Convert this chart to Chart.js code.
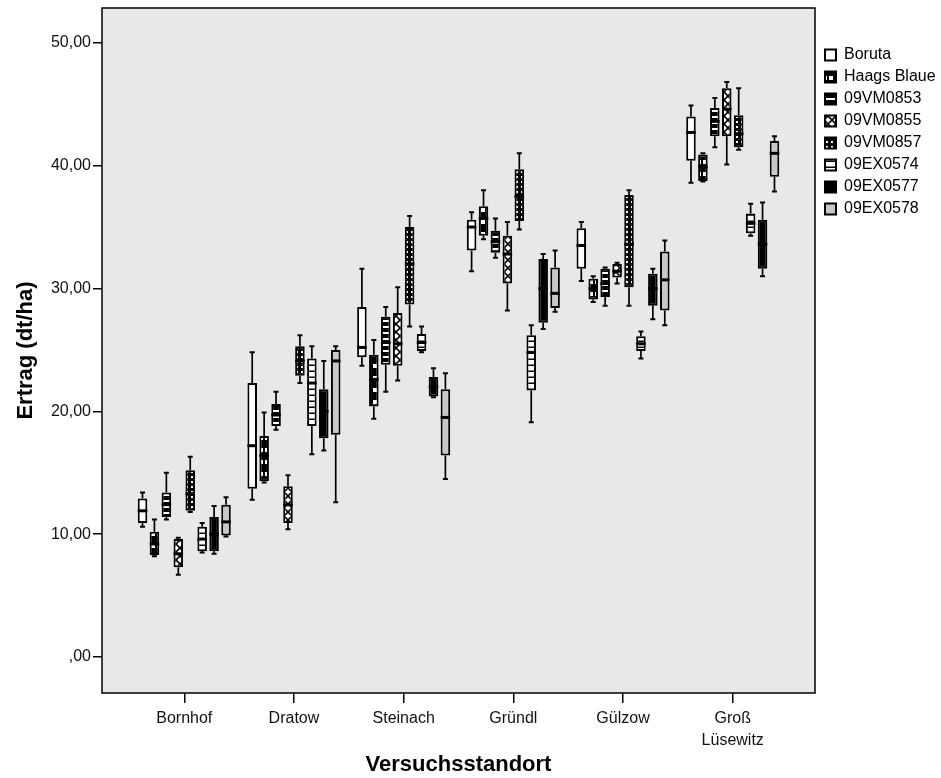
<!DOCTYPE html>
<html>
<head>
<meta charset="utf-8">
<script src="https://cdn.jsdelivr.net/npm/chart.js@4.4.1/dist/chart.umd.min.js"></script>
<style>
  html, body { margin: 0; padding: 0; background: #fff; }
</style>
</head>
<body>
<canvas id="chart" width="941" height="778"></canvas>
<script>
// categories on the x axis
const categories = ['Bornhof', 'Dratow', 'Steinach', 'Gründl', 'Gülzow', ['Groß', 'Lüsewitz']];
const seriesNames = ['Boruta', 'Haags Blaue', '09VM0853', '09VM0855', '09VM0857', '09EX0574', '09EX0577', '09EX0578'];
const yTicks = [0, 10, 20, 30, 40, 50];
const yTickLabels = [',00', '10,00', '20,00', '30,00', '40,00', '50,00'];

// each row: [min, q1, median, q3, max] per location
const boruta = [
  [10.6, 10.9, 11.9, 12.9, 13.4],
  [12.8, 13.7, 17.2, 22.3, 24.8],
  [23.7, 24.4, 25.2, 28.5, 31.6],
  [31.4, 33.1, 35.0, 35.6, 36.2],
  [30.6, 31.6, 33.5, 34.9, 35.4],
  [38.6, 40.4, 42.7, 44.0, 44.9]
];
const haagsBlaue = [
  [8.2, 8.3, 9.2, 10.2, 11.2],
  [14.2, 14.3, 16.4, 18.0, 19.9],
  [19.4, 20.4, 22.6, 24.6, 25.8],
  [34.0, 34.3, 35.7, 36.7, 38.0],
  [28.9, 29.1, 30.0, 30.8, 31.0],
  [38.7, 38.75, 39.9, 40.9, 41.0]
];
const vm0853 = [
  [11.2, 11.4, 12.4, 13.4, 15.0],
  [18.5, 18.8, 19.7, 20.6, 21.6],
  [21.6, 23.8, 25.6, 27.7, 28.5],
  [32.5, 32.9, 33.8, 34.7, 35.7],
  [28.6, 29.3, 30.4, 31.6, 31.7],
  [41.5, 42.4, 43.6, 44.7, 45.5]
];
const vm0855 = [
  [6.7, 7.3, 8.4, 9.6, 9.7],
  [10.4, 10.9, 12.4, 13.9, 14.8],
  [22.5, 23.7, 25.5, 28.0, 30.1],
  [28.2, 30.4, 32.8, 34.3, 35.4],
  [30.4, 30.9, 31.4, 32.0, 32.1],
  [40.1, 42.4, 44.6, 46.3, 46.8]
];
const vm0857 = [
  [11.8, 11.9, 13.3, 15.2, 16.3],
  [22.3, 22.9, 24.1, 25.3, 26.2],
  [26.9, 28.7, 32.0, 35.0, 35.9],
  [34.8, 35.5, 37.5, 39.7, 41.0],
  [28.6, 30.1, 33.6, 37.6, 38.0],
  [41.3, 41.5, 42.6, 44.1, 46.3]
];
const ex0574 = [
  [8.5, 8.6, 9.6, 10.6, 10.9],
  [16.5, 18.8, 22.3, 24.3, 25.3],
  [24.8, 24.9, 25.6, 26.3, 26.9],
  [19.1, 21.7, 24.8, 26.2, 27.0],
  [24.3, 24.9, 25.5, 26.1, 26.5],
  [34.3, 34.5, 35.3, 36.1, 36.9]
];
const ex0577 = [
  [8.4, 8.6, 10.0, 11.4, 12.3],
  [16.8, 17.8, 20.0, 21.8, 24.1],
  [21.15, 21.2, 22.0, 22.8, 23.5],
  [26.7, 27.2, 30.0, 32.4, 32.8],
  [27.5, 28.6, 30.0, 31.2, 31.6],
  [31.0, 31.6, 33.6, 35.6, 37.0]
];
const ex0578 = [
  [9.8, 9.9, 11.0, 12.4, 13.0],
  [12.6, 18.1, 24.1, 25.0, 25.3],
  [14.5, 16.4, 19.5, 21.8, 23.1],
  [28.1, 28.4, 29.6, 31.7, 33.1],
  [27.0, 28.2, 30.7, 33.0, 33.9],
  [37.9, 39.1, 41.0, 42.0, 42.4]
];
const seriesStats = [boruta, haagsBlaue, vm0853, vm0855, vm0857, ex0574, ex0577, ex0578];

const FONT = 'Liberation Sans, Arial, Helvetica, sans-serif';

function makePattern(w, h, draw) {
  const c = document.createElement('canvas');
  c.width = w;
  c.height = h;
  const g = c.getContext('2d');
  draw(g, w, h);
  return g.createPattern(c, 'repeat');
}

const fills = [
  '#ffffff',
  makePattern(6, 12, (g, w, h) => { g.fillStyle = '#000'; g.fillRect(0, 0, w, h); g.fillStyle = '#fff'; g.fillRect(1, 4, 4, 4); }),
  makePattern(4, 6, (g, w, h) => { g.fillStyle = '#000'; g.fillRect(0, 0, w, h); g.fillStyle = '#fff'; g.fillRect(0, 2, w, 2); }),
  makePattern(8, 8, (g, w, h) => {
    g.fillStyle = '#fff'; g.fillRect(0, 0, w, h);
    g.strokeStyle = '#000'; g.lineWidth = 1.6;
    g.beginPath(); g.moveTo(0, 0); g.lineTo(w, h); g.moveTo(w, 0); g.lineTo(0, h); g.stroke();
  }),
  makePattern(5, 5, (g, w, h) => { g.fillStyle = '#000'; g.fillRect(0, 0, w, h); g.fillStyle = '#fff'; g.fillRect(1, 1, 2, 2); }),
  makePattern(4, 6, (g, w, h) => { g.fillStyle = '#fff'; g.fillRect(0, 0, w, h); g.fillStyle = '#000'; g.fillRect(0, 4.5, w, 1.5); }),
  '#000000',
  '#c8c8c8'
];

const datasets = seriesNames.map((name, d) => ({
  label: name,
  data: seriesStats[d].map((s, i) => ({ x: i + 1, y: [s[1], s[3]] })),
  backgroundColor: fills[d],
  borderColor: '#000',
  borderWidth: 2,
  borderSkipped: false,
  categoryPercentage: 0.87,
  barPercentage: 0.8
}));

// whiskers, medians, plot background and frame
const boxPlot = {
  id: 'boxPlot',
  beforeDraw(chart) {
    const { ctx, chartArea: a } = chart;
    ctx.save();
    ctx.fillStyle = '#e8e8e8';
    ctx.fillRect(a.left, a.top, a.right - a.left, a.bottom - a.top);
    ctx.restore();
  },
  beforeDatasetsDraw(chart) {
    const { ctx } = chart;
    const y = chart.scales.y;
    ctx.save();
    ctx.strokeStyle = '#000';
    chart.data.datasets.forEach((ds, d) => {
      chart.getDatasetMeta(d).data.forEach((bar, i) => {
        const [mn, q1, , q3, mx] = seriesStats[d][i];
        const x = bar.x;
        ctx.lineWidth = 1.7;
        ctx.beginPath();
        ctx.moveTo(x, y.getPixelForValue(q3));
        ctx.lineTo(x, y.getPixelForValue(mx));
        ctx.moveTo(x, y.getPixelForValue(q1));
        ctx.lineTo(x, y.getPixelForValue(mn));
        ctx.stroke();
        ctx.lineWidth = 2;
        ctx.beginPath();
        [mn, mx].forEach(v => {
          const py = y.getPixelForValue(v);
          ctx.moveTo(x - 2.5, py);
          ctx.lineTo(x + 2.5, py);
        });
        ctx.stroke();
      });
    });
    ctx.restore();
  },
  afterDatasetsDraw(chart) {
    const { ctx } = chart;
    const y = chart.scales.y;
    ctx.save();
    ctx.strokeStyle = '#000';
    ctx.lineWidth = 3;
    chart.data.datasets.forEach((ds, d) => {
      chart.getDatasetMeta(d).data.forEach((bar, i) => {
        const py = y.getPixelForValue(seriesStats[d][i][2]);
        ctx.beginPath();
        ctx.moveTo(bar.x - bar.width / 2, py);
        ctx.lineTo(bar.x + bar.width / 2, py);
        ctx.stroke();
      });
    });
    ctx.restore();
  },
  afterDraw(chart) {
    const { ctx, chartArea: a } = chart;
    ctx.save();
    ctx.strokeStyle = '#000';
    ctx.lineWidth = 1.5;
    ctx.strokeRect(a.left, a.top, a.right - a.left, a.bottom - a.top);
    ctx.restore();
  }
};

const noPad = s => { s.paddingTop = 0; s.paddingBottom = 0; s.paddingLeft = 0; s.paddingRight = 0; };

new Chart(document.getElementById('chart'), {
  type: 'bar',
  data: { datasets },
  plugins: [boxPlot],
  options: {
    responsive: false,
    animation: false,
    layout: { padding: { top: 8, left: 0, right: 0, bottom: 0 } },
    plugins: {
      tooltip: { enabled: false },
      legend: {
        position: 'right',
        align: 'start',
        maxWidth: 122,
        title: { display: true, text: '', padding: { top: 20, bottom: 0 }, font: { size: 13, lineHeight: 1 } },
        labels: {
          boxWidth: 11,
          boxHeight: 11,
          padding: 6,
          color: '#000',
          font: { family: FONT, size: 16 }
        }
      }
    },
    scales: {
      x: {
        type: 'linear',
        min: 0.25,
        max: 6.75,
        offset: false,
        afterBuildTicks: s => { s.ticks = categories.map((c, i) => ({ value: i + 1 })); },
        afterFit: s => { s.height = 85; noPad(s); },
        ticks: {
          autoSkip: false,
          maxRotation: 0,
          padding: 4,
          color: '#111',
          font: { family: FONT, size: 16, lineHeight: 1.4 },
          callback: (v, i) => categories[i]
        },
        grid: { display: true, offset: false, drawOnChartArea: false, drawTicks: true, tickLength: 10, color: '#000', lineWidth: 1.5 },
        border: { display: false },
        title: { display: true, text: 'Versuchsstandort', color: '#000', padding: 0, font: { family: FONT, size: 22, weight: 'bold' } }
      },
      y: {
        min: -2.93,
        max: 52.83,
        afterBuildTicks: s => { s.ticks = yTicks.map(v => ({ value: v })); },
        afterFit: s => { s.width = 102; noPad(s); },
        ticks: {
          padding: 2,
          color: '#111',
          font: { family: FONT, size: 16 },
          callback: (v, i) => yTickLabels[i]
        },
        grid: { display: true, drawOnChartArea: false, drawTicks: true, tickLength: 9, color: '#000', lineWidth: 1.5 },
        border: { display: false },
        title: { display: true, text: 'Ertrag (dt/ha)', color: '#000', padding: { top: 13, bottom: 0 }, font: { family: FONT, size: 22, weight: 'bold' } }
      },
      yPad: {
        position: 'right',
        display: true,
        afterFit: s => { s.width = 4; noPad(s); },
        ticks: { display: false },
        grid: { display: false },
        border: { display: false }
      }
    }
  }
});
</script>
</body>
</html>
